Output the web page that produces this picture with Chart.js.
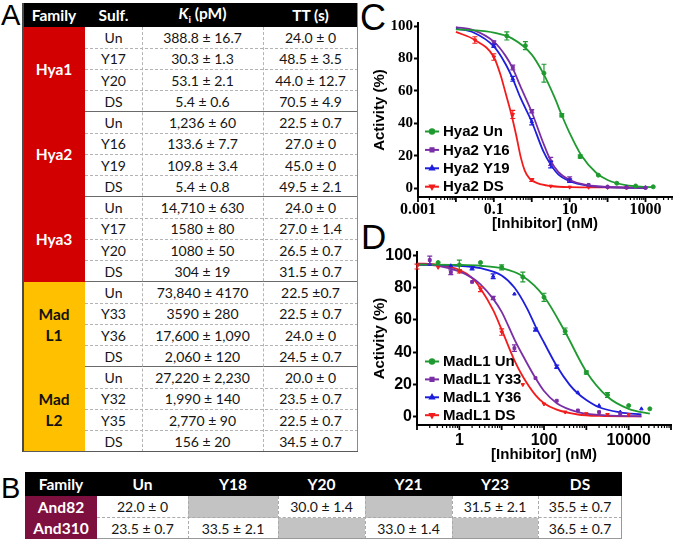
<!DOCTYPE html>
<html><head><meta charset="utf-8">
<script src="https://cdn.jsdelivr.net/npm/chart.js@4.4.1/dist/chart.umd.min.js"></script>
<style>
html,body{margin:0;padding:0;background:#fff;}
body{width:677px;height:539px;overflow:hidden;position:relative;font-family:Lato,'Open Sans',sans-serif;}
.lbl{position:absolute;font-family:'Liberation Sans',Arial,sans-serif;color:#000;line-height:1;}
.cell{position:absolute;box-sizing:border-box;display:flex;align-items:center;justify-content:center;white-space:nowrap;text-align:center;}
.ln{position:absolute;box-sizing:border-box;}
canvas{position:absolute;}
</style></head><body>
<div class="lbl" style="left:1px;top:1px;font-size:29px">A</div>
<div class="lbl" style="left:1px;top:474px;font-size:29px">B</div>
<div class="lbl" style="left:360px;top:0px;font-size:36px">C</div>
<div class="lbl" style="left:361px;top:219px;font-size:35px">D</div>
<div id="tA"></div><div id="tB"></div>
<canvas id="chartC" width="322" height="245" style="left:355px;top:0px;width:322px;height:245px"></canvas>
<canvas id="chartD" width="322" height="230" style="left:355px;top:238px;width:322px;height:230px"></canvas>
<script>
// ================= DATA =================
// Panel A table
const tableAHeaders = ['Family', 'Sulf.', '<i>K</i><sub style="font-size:10px">i</sub>&nbsp;(pM)', 'TT (s)'];
const tableAFamilies = ['Hya1', 'Hya2', 'Hya3', 'Mad<br>L1', 'Mad<br>L2'];
const tableASulf = ['Un','Y17','Y20','DS', 'Un','Y16','Y19','DS', 'Un','Y17','Y20','DS', 'Un','Y33','Y36','DS', 'Un','Y32','Y35','DS'];
const tableAKi = ['388.8 ± 16.7','30.3 ± 1.3','53.1 ± 2.1','5.4 ± 0.6',
  '1,236 ± 60','133.6 ± 7.7','109.8 ± 3.4','5.4 ± 0.8',
  '14,710 ± 630','1580 ± 80','1080 ± 50','304 ± 19',
  '73,840 ± 4170','3590 ± 280','17,600 ± 1,090','2,060 ± 120',
  '27,220 ± 2,230','1,990 ± 140','2,770 ± 90','156 ± 20'];
const tableATT = ['24.0 ± 0','48.5 ± 3.5','44.0 ± 12.7','70.5 ± 4.9',
  '22.5 ± 0.7','27.0 ± 0','45.0 ± 0','49.5 ± 2.1',
  '24.0 ± 0','27.0 ± 1.4','26.5 ± 0.7','31.5 ± 0.7',
  '22.5 ±0.7','22.5 ± 0.7','24.0 ± 0','24.5 ± 0.7',
  '20.0 ± 0','23.5 ± 0.7','22.5 ± 0.7','34.5 ± 0.7'];
// Panel B table
const tableBHeaders = ['Family','Un','Y18','Y20','Y21','Y23','DS'];
const tableBFamilies = ['And82','And310'];
const tableBAnd82 = ['22.0 ± 0', null, '30.0 ± 1.4', null, '31.5 ± 2.1', '35.5 ± 0.7'];
const tableBAnd310 = ['23.5 ± 0.7', '33.5 ± 2.1', null, '33.0 ± 1.4', null, '36.5 ± 0.7'];

// Panel C (Hya2)
const cTickLabels = [0.001, 0.1, 10, 1000];
const cYTicks = [0, 20, 40, 60, 80, 100];
const hya2Labels = ['Hya2 Un', 'Hya2 Y16', 'Hya2 Y19', 'Hya2 DS'];
const hya2UnConc = [0.22, 0.68, 2.1, 6.2, 19, 57, 175, 550, 1600];
const hya2UnAct  = [94, 88, 71, 45, 19.5, 8, 3, 1.3, 0.8];
const hya2UnErr  = [2.5, 2.5, 5.5, 1, 1, 0.5, 0.3, 0.3, 0.3];
const hya2UnFitConc = [0.01, 0.03, 0.1, 0.3, 1, 2, 4, 6.2, 10, 20, 50, 100, 300, 1000, 1600];
const hya2UnFitAct  = [98, 97.5, 96, 92.5, 82.5, 71, 56, 45, 34, 20.5, 9.5, 5, 1.8, 0.7, 0.5];
const hya2Y16Conc = [0.1, 0.316, 1, 3.16, 10, 31.6, 100, 316, 1000];
const hya2Y16Act  = [90, 74.5, 47.5, 16.5, 5.5, 2, 0.8, 0.3, 0.2];
const hya2Y16Err  = [1, 1.5, 1, 2.5, 1.5, 0.5, 0.3, 0.3, 0.3];
const hya2Y16FitConc = [0.01, 0.03, 0.1, 0.2, 0.316, 0.5, 1, 2, 3.16, 5, 10, 30, 100, 300, 1000];
const hya2Y16FitAct  = [99.5, 97.5, 90.5, 82, 74, 63, 47, 28, 17, 10, 5, 1.8, 0.7, 0.3, 0.2];
const hya2Y19Conc = [0.1, 0.316, 1, 3.16, 10, 31.6, 100, 316, 1000];
const hya2Y19Act  = [88, 67.5, 41, 14.5, 4.5, 1.8, 0.8, 0.5, 0.3];
const hya2Y19Err  = [1, 1.5, 2, 2, 1, 0.5, 0.3, 0.3, 0.3];
const hya2Y19FitConc = [0.01, 0.03, 0.1, 0.2, 0.316, 0.5, 1, 2, 3.16, 5, 10, 30, 100, 300, 1000];
const hya2Y19FitAct  = [98.5, 96, 87.5, 77, 67.5, 56, 41, 23, 14.5, 8.5, 4.3, 1.5, 0.6, 0.3, 0.2];
const hya2DSConc = [0.0316, 0.1, 0.316, 1, 3.16, 10, 31.6, 100, 316, 1000];
const hya2DSAct  = [91.5, 81, 45.5, 5, 1.2, 0.6, 0.5, 0.4, 0.3, 0.3];
const hya2DSErr  = [2, 2, 2.5, 0.8, 0.3, 0.3, 0.3, 0.3, 0.3, 0.3];
const hya2DSFitConc = [0.01, 0.0316, 0.1, 0.15, 0.2, 0.28, 0.39, 0.52, 0.65, 0.87, 1.46, 3.16, 10, 100, 1000];
const hya2DSFitAct  = [96.5, 91.5, 81, 70, 59.5, 47, 32.5, 18.5, 11, 6, 2.9, 1.3, 0.6, 0.4, 0.3];

// Panel D (MadL1)
const dTickLabels = [1, 100, 10000];
const dYTicks = [0, 20, 40, 60, 80, 100];
const madLabels = ['MadL1 Un', 'MadL1 Y33', 'MadL1 Y36', 'MadL1 DS'];
const madUnConc = [0.316, 1, 3.16, 10, 31.6, 100, 316, 1000, 3162, 10000, 31623];
const madUnAct  = [95.5, 94, 95.5, 92.5, 86.5, 74, 53, 27.5, 13.5, 7, 5];
const madUnErr  = [0.5, 3, 0.5, 1.5, 3, 2.5, 2, 1, 1.5, 0.5, 0.3];
const madUnFitConc = [0.1, 1, 3.16, 10, 31.6, 100, 316, 1000, 3162, 10000, 31623];
const madUnFitAct  = [94.2, 94, 93.5, 92, 87, 74.5, 52.5, 28, 12.5, 5, 2];
const madY33Conc = [0.2, 0.63, 2, 6.3, 20, 63, 200, 632, 2000, 6325];
const madY33Act  = [97, 89.5, 83.5, 73.5, 42.5, 24, 10, 4, 3, 2];
const madY33Err  = [2.5, 1.5, 0.5, 1, 2, 0.5, 0.5, 0.5, 0.3, 0.3];
const madY33FitConc = [0.1, 0.316, 1, 2, 3.16, 6.3, 10, 20, 31.6, 63, 100, 200, 632, 2000, 6325, 20000];
const madY33FitAct  = [94.5, 93.5, 90, 86, 82, 73, 65, 48, 38, 24, 16, 8.5, 3, 1.2, 0.6, 0.4];
const madY36Conc = [0.2, 0.63, 2, 6.3, 20, 63, 200, 632, 2000, 6325, 20000];
const madY36Act  = [94.5, 93.5, 92, 87, 76, 54, 31, 15, 7, 3, 5];
const madY36Err  = [0.5, 0.5, 1, 1.5, 0.5, 1, 1, 0.5, 0.3, 0.3, 0.3];
const madY36FitConc = [0.1, 1, 3.16, 10, 20, 40, 63, 100, 200, 400, 632, 1000, 2000, 6325, 20000];
const madY36FitAct  = [94, 93.5, 92, 87.5, 80, 67, 56, 46, 31.5, 20, 14.5, 10.5, 6, 2.8, 1.5];
const madDSConc = [0.1, 0.316, 1, 3.16, 10, 31.6, 100, 316, 1000, 3162, 10000];
const madDSAct  = [93, 92.5, 90, 79, 52.5, 20, 8, 3, 2, 1.5, 1.5];
const madDSErr  = [1.5, 0.5, 1, 1.5, 2, 0.5, 0.5, 0.3, 0.3, 0.3, 0.3];
const madDSFitConc = [0.1, 0.316, 1, 2, 3.16, 6.3, 10, 20, 31.6, 63, 100, 200, 632, 2000, 20000];
const madDSFitAct  = [95, 94, 91, 86, 79.5, 66, 54, 35, 25, 13.5, 8.5, 4.5, 1.5, 0.6, 0.3];

// ================= TABLES =================
function addDiv(parent, css, html, cls) {
  const d = document.createElement('div');
  d.style.cssText = css;
  if (html !== undefined) d.innerHTML = '<span>' + html + '</span>';
  if (cls) d.className = cls;
  parent.appendChild(d); return d;
}
(function buildTableA() {
  const p = document.getElementById('tA');
  const cx = [23, 85, 142, 263, 358];
  const top = 3, hh = 24, bTop = 27, rh = 21.25, n = tableASulf.length;
  const bottom = bTop + n * rh;
  addDiv(p, `position:absolute;left:${cx[0]}px;top:${top}px;width:${cx[4]-cx[0]}px;height:${hh}px;background:#000`);
  tableAHeaders.forEach((h, i) => {
    addDiv(p, `left:${cx[i]}px;top:${top}px;width:${cx[i+1]-cx[i]}px;height:${hh}px;color:#fff;font-weight:bold;font-size:15.5px;`, h, 'cell');
  });
  const famBg = ['#d20000', '#d20000', '#d20000', '#ffc000', '#ffc000'];
  const famFg = ['#fff', '#fff', '#fff', '#111', '#111'];
  tableAFamilies.forEach((f, g) => {
    addDiv(p, `left:${cx[0]}px;top:${bTop + g*4*rh}px;width:${cx[1]-cx[0]}px;height:${4*rh}px;background:${famBg[g]};color:${famFg[g]};font-weight:bold;font-size:15.5px;line-height:21px;`, f, 'cell');
  });
  for (let i = 0; i < n; i++) {
    const y = bTop + i * rh;
    if (i > 0) {
      const grp = i % 4 === 0;
      addDiv(p, `left:${cx[1]}px;top:${y - (grp?0.75:0.5)}px;width:${cx[4]-cx[1]}px;height:0;border-top:${grp ? '1.5px solid #6a6a6a' : '1px dashed #b4b4b4'}`, undefined, 'ln');
    }
    const vals = [tableASulf[i], tableAKi[i], tableATT[i]];
    vals.forEach((v, j) => {
      addDiv(p, `left:${cx[j+1]}px;top:${y}px;width:${cx[j+2]-cx[j+1]}px;height:${rh}px;font-size:14px;color:#151515;`, v, 'cell');
    });
  }
  [cx[2], cx[3]].forEach(x => {
    addDiv(p, `left:${x-0.5}px;top:${bTop}px;width:0;height:${bottom-bTop}px;border-left:1px dashed #b4b4b4`, undefined, 'ln');
  });
  addDiv(p, `left:${cx[4]-1}px;top:${top}px;width:0;height:${bottom-top}px;border-left:1.5px solid #8a8a8a`, undefined, 'ln');
  addDiv(p, `left:${cx[0]-1}px;top:${top}px;width:0;height:${bottom-top}px;border-left:2px solid #4a4a4a`, undefined, 'ln');
  addDiv(p, `left:${cx[0]}px;top:${bottom-0.75}px;width:${cx[4]-cx[0]}px;height:0;border-top:1.5px solid #5a5a5a`, undefined, 'ln');
})();
(function buildTableB() {
  const p = document.getElementById('tB');
  const cx = [25, 97, 188, 278, 365, 452, 538, 622];
  const top = 472, hh = 24, rh = 21.5;
  addDiv(p, `position:absolute;left:${cx[0]}px;top:${top}px;width:${cx[7]-cx[0]}px;height:${hh}px;background:#000`);
  tableBHeaders.forEach((h, i) => {
    addDiv(p, `left:${cx[i]}px;top:${top}px;width:${cx[i+1]-cx[i]}px;height:${hh}px;color:#fff;font-weight:bold;font-size:15.5px;`, h, 'cell');
  });
  const rows = [tableBAnd82, tableBAnd310];
  rows.forEach((r, k) => {
    const y = top + hh + k * rh;
    addDiv(p, `left:${cx[0]}px;top:${y}px;width:${cx[1]-cx[0]}px;height:${rh}px;background:#7e1040;color:#fff;font-weight:bold;font-size:15.5px;`, tableBFamilies[k], 'cell');
    r.forEach((v, j) => {
      const bg = v === null ? '#c3c3c3' : '#fff';
      addDiv(p, `left:${cx[j+1]}px;top:${y}px;width:${cx[j+2]-cx[j+1]}px;height:${rh}px;background:${bg};font-size:14px;color:#151515;`, v === null ? '' : v, 'cell');
    });
  });
  const y0 = top + hh, y2 = top + hh + 2 * rh;
  addDiv(p, `left:${cx[1]}px;top:${y0 + rh - 0.5}px;width:${cx[7]-cx[1]}px;height:0;border-top:1px dashed #aaa`, undefined, 'ln');
  for (let j = 2; j < 7; j++) addDiv(p, `left:${cx[j]-0.5}px;top:${y0}px;width:0;height:${2*rh}px;border-left:1px dashed #aaa`, undefined, 'ln');
  addDiv(p, `left:${cx[7]-1}px;top:${y0}px;width:0;height:${2*rh}px;border-left:1px solid #999`, undefined, 'ln');
  addDiv(p, `left:${cx[1]}px;top:${y2-1}px;width:${cx[7]-cx[1]}px;height:0;border-top:1px solid #999`, undefined, 'ln');
})();

// ================= CHARTS =================
const COL = {green: '#1f9a30', purple: '#7a2ea6', blue: '#1d1ddc', red: '#f21c1c'};
const STY = [
  {color: COL.green, style: 'circle', rot: 0},
  {color: COL.purple, style: 'rect', rot: 0},
  {color: COL.blue, style: 'triangle', rot: 0},
  {color: COL.red, style: 'triangle', rot: 180}
];
function pts(xs, ys) { return xs.map((x, i) => ({x: x, y: ys[i]})); }
function logTicks(min, max) {
  const out = [];
  const e0 = Math.floor(Math.log10(min) + 1e-9), e1 = Math.ceil(Math.log10(max) - 1e-9);
  for (let e = e0; e <= e1; e++) for (let m = 1; m <= 9; m++) {
    const v = Number(m + 'e' + e);
    if (v >= min * 0.9999 && v <= max * 1.0001) out.push({value: v});
  }
  return out;
}
function isDecade(v) { const l = Math.log10(v); return Math.abs(l - Math.round(l)) < 1e-6; }
function labelFor(v, labels) {
  for (const L of labels) if (Math.abs(Math.log10(v) - Math.log10(L)) < 1e-6) return String(L);
  return '';
}
const errorBarPlugin = {
  id: 'errorBars',
  afterDatasetsDraw(chart) {
    const ctx = chart.ctx, xs = chart.scales.x, ys = chart.scales.y;
    ctx.save();
    chart.data.datasets.forEach(ds => {
      if (!ds.errors) return;
      ctx.strokeStyle = ds.borderColor; ctx.lineWidth = 1.2;
      ds.data.forEach((p, i) => {
        const e = ds.errors[i]; if (!e) return;
        const px = xs.getPixelForValue(p.x);
        const y1 = ys.getPixelForValue(p.y + e), y2 = ys.getPixelForValue(p.y - e);
        if (Math.abs(y2 - y1) < 2) return;
        ctx.beginPath();
        ctx.moveTo(px, y1); ctx.lineTo(px, y2);
        ctx.moveTo(px - 2.5, y1); ctx.lineTo(px + 2.5, y1);
        ctx.moveTo(px - 2.5, y2); ctx.lineTo(px + 2.5, y2);
        ctx.stroke();
      });
    });
    ctx.restore();
  }
};
const axisTickPlugin = {
  id: 'axisTicks',
  afterDraw(chart) {
    const ctx = chart.ctx, xs = chart.scales.x;
    ctx.save(); ctx.strokeStyle = '#000';
    xs.ticks.forEach(t => {
      const px = xs.getPixelForValue(t.value);
      const dec = isDecade(t.value);
      ctx.lineWidth = dec ? 1.8 : 1.2;
      ctx.beginPath(); ctx.moveTo(px, xs.top); ctx.lineTo(px, xs.top + (dec ? 5 : 3)); ctx.stroke();
    });
    ctx.restore();
  }
};
const inLegendPlugin = {
  id: 'inLegend',
  afterDraw(chart, args, o) {
    const ctx = chart.ctx;
    ctx.save();
    o.labels.forEach((txt, i) => {
      const s = STY[i], y = o.y + i * o.dy;
      ctx.strokeStyle = s.color; ctx.fillStyle = s.color; ctx.lineWidth = 2;
      ctx.beginPath(); ctx.moveTo(o.x, y); ctx.lineTo(o.x + 14, y); ctx.stroke();
      Chart.helpers.drawPoint(ctx, {pointStyle: s.style, radius: 2.2, rotation: s.rot, borderWidth: 1}, o.x + 7, y);
      ctx.fillStyle = '#000';
      ctx.font = o.font; ctx.textBaseline = 'middle'; ctx.textAlign = 'left';
      ctx.fillText(txt, o.x + 18, y + 0.5);
    });
    ctx.restore();
  }
};
function makeDatasets(series) {
  const out = [];
  series.forEach((s, i) => {
    out.push({label: s.label + ' fit', data: pts(s.fitX, s.fitY), showLine: true, borderColor: STY[i].color,
      borderWidth: 1.8, pointRadius: 0, cubicInterpolationMode: 'monotone', fill: false, order: 2});
  });
  series.forEach((s, i) => {
    out.push({label: s.label, data: pts(s.x, s.y), errors: s.err, showLine: false, borderColor: STY[i].color,
      backgroundColor: STY[i].color, pointStyle: STY[i].style, pointRotation: STY[i].rot, pointRadius: 2,
      pointBorderWidth: 1, order: 1});
  });
  return out;
}
function makeChart(id, cfg) {
  return new Chart(document.getElementById(id), {
    type: 'scatter',
    data: {datasets: makeDatasets(cfg.series)},
    options: {
      responsive: false, animation: false, events: [],
      layout: {padding: cfg.padding},
      plugins: {legend: {display: false}, tooltip: {enabled: false}, inLegend: cfg.legend},
      scales: {
        x: {
          type: 'logarithmic', min: cfg.xMin, max: cfg.xMax,
          afterBuildTicks: s => { s.ticks = logTicks(cfg.xMin, cfg.xMax); },
          afterFit: s => { s.height = cfg.xH; },
          border: {display: true, color: '#000', width: 2},
          grid: {display: true, drawOnChartArea: false, drawTicks: false},
          ticks: {autoSkip: false, maxRotation: 0, minRotation: 0, padding: cfg.xPad, color: '#000', font: cfg.tickFontX,
            callback: v => labelFor(v, cfg.xLabels)},
          title: {display: true, text: '[Inhibitor] (nM)', color: '#000',
            font: {family: 'Liberation Sans', weight: 'bold', size: 15}, padding: {top: 0, bottom: cfg.xTitlePad}}
        },
        y: {
          min: cfg.yMin, max: cfg.yMax,
          afterBuildTicks: s => { s.ticks = cfg.yTicks.map(v => ({value: v})); },
          afterFit: s => { s.width = cfg.yW; },
          border: {display: true, color: '#000', width: 2},
          grid: {display: true, drawOnChartArea: false, drawTicks: true, tickLength: 4, tickWidth: 2, color: '#000'},
          ticks: {padding: 1, color: '#000', font: cfg.tickFontY},
          title: {display: true, text: 'Activity (%)', color: '#000',
            font: {family: 'Liberation Sans', weight: 'bold', size: 15}, padding: {top: cfg.yTitlePad, bottom: 0}}
        }
      }
    },
    plugins: [errorBarPlugin, axisTickPlugin, inLegendPlugin]
  });
}

makeChart('chartC', {
  series: [
    {label: hya2Labels[0], x: hya2UnConc, y: hya2UnAct, err: hya2UnErr, fitX: hya2UnFitConc, fitY: hya2UnFitAct},
    {label: hya2Labels[1], x: hya2Y16Conc, y: hya2Y16Act, err: hya2Y16Err, fitX: hya2Y16FitConc, fitY: hya2Y16FitAct},
    {label: hya2Labels[2], x: hya2Y19Conc, y: hya2Y19Act, err: hya2Y19Err, fitX: hya2Y19FitConc, fitY: hya2Y19FitAct},
    {label: hya2Labels[3], x: hya2DSConc, y: hya2DSAct, err: hya2DSErr, fitX: hya2DSFitConc, fitY: hya2DSFitAct}
  ],
  padding: {top: 23, right: 4, left: 0, bottom: 0},
  xMin: 0.001, xMax: 5000, xLabels: cTickLabels, xH: 48, xPad: 3, xTitlePad: 12,
  yMin: -5.5, yMax: 102, yTicks: cYTicks, yW: 63, yTitlePad: 16,
  tickFontX: {family: 'Liberation Serif', weight: 'bold', size: 16},
  tickFontY: {family: 'Liberation Serif', weight: 'bold', size: 15},
  legend: {labels: hya2Labels, x: 70, y: 131.5, dy: 18.4, font: 'bold 15px "Liberation Sans"'}
});
makeChart('chartD', {
  series: [
    {label: madLabels[0], x: madUnConc, y: madUnAct, err: madUnErr, fitX: madUnFitConc, fitY: madUnFitAct},
    {label: madLabels[1], x: madY33Conc, y: madY33Act, err: madY33Err, fitX: madY33FitConc, fitY: madY33FitAct},
    {label: madLabels[2], x: madY36Conc, y: madY36Act, err: madY36Err, fitX: madY36FitConc, fitY: madY36FitAct},
    {label: madLabels[3], x: madDSConc, y: madDSAct, err: madDSErr, fitX: madDSFitConc, fitY: madDSFitAct}
  ],
  padding: {top: 14, right: 5, left: 0, bottom: 0},
  xMin: 0.1, xMax: 100000, xLabels: dTickLabels, xH: 43, xPad: 6, xTitlePad: 4,
  yMin: -5, yMax: 102, yTicks: dYTicks, yW: 62, yTitlePad: 16,
  tickFontX: {family: 'Liberation Sans', weight: 'bold', size: 16},
  tickFontY: {family: 'Liberation Sans', weight: 'bold', size: 16},
  legend: {labels: madLabels, x: 70, y: 123.5, dy: 17.9, font: 'bold 15px "Liberation Sans"'}
});
</script>
</body></html>
